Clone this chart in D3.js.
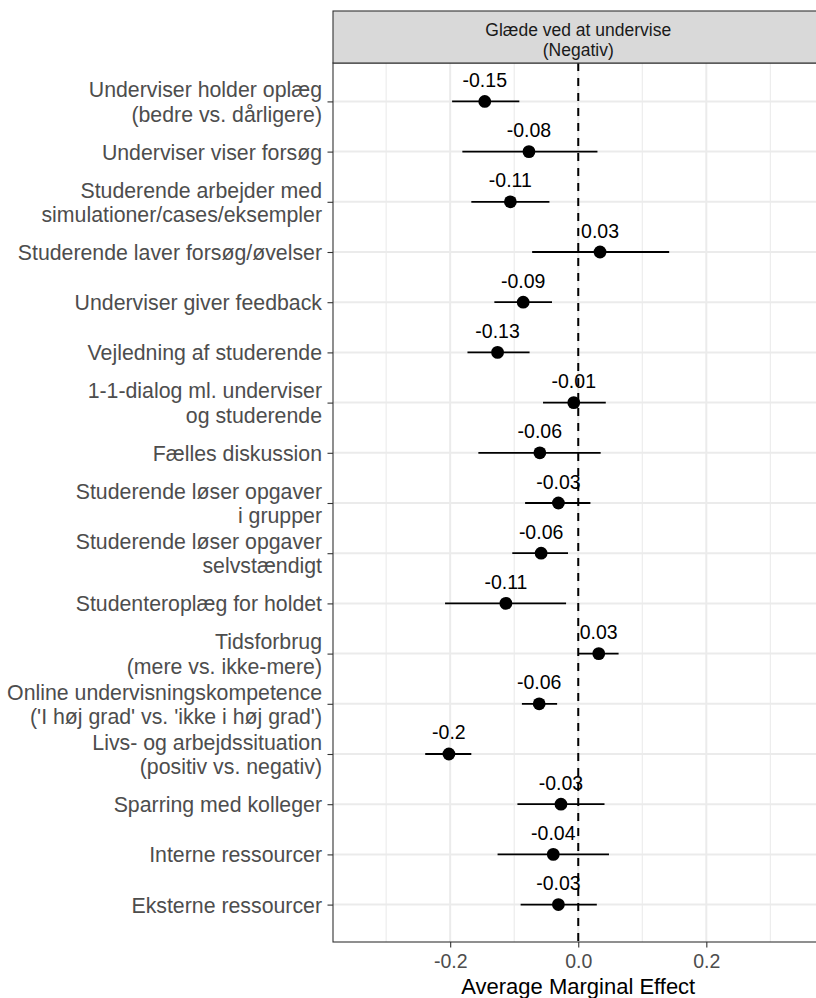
<!DOCTYPE html>
<html>
<head>
<meta charset="utf-8">
<script src="https://cdn.jsdelivr.net/npm/d3@7/dist/d3.min.js"></script>
<style>
  html, body { margin: 0; padding: 0; background: #fff; }
  svg { display: block; font-family: "Liberation Sans", Arial, sans-serif; }
</style>
</head>
<body>
<svg id="chart" width="816" height="998"></svg>
<script>
// ---- data ----
const categories = [
  "Underviser holder oplæg\n(bedre vs. dårligere)",
  "Underviser viser forsøg",
  "Studerende arbejder med\nsimulationer/cases/eksempler",
  "Studerende laver forsøg/øvelser",
  "Underviser giver feedback",
  "Vejledning af studerende",
  "1-1-dialog ml. underviser\nog studerende",
  "Fælles diskussion",
  "Studerende løser opgaver\ni grupper",
  "Studerende løser opgaver\nselvstændigt",
  "Studenteroplæg for holdet",
  "Tidsforbrug\n(mere vs. ikke-mere)",
  "Online undervisningskompetence\n('I høj grad' vs. 'ikke i høj grad')",
  "Livs- og arbejdssituation\n(positiv vs. negativ)",
  "Sparring med kolleger",
  "Interne ressourcer",
  "Eksterne ressourcer"
];
const estimates = [-0.146, -0.077, -0.106, 0.034, -0.086, -0.126, -0.007, -0.060, -0.031, -0.058, -0.113, 0.032, -0.061, -0.202, -0.027, -0.039, -0.031];
const ciLower   = [-0.197, -0.181, -0.167, -0.072, -0.131, -0.173, -0.055, -0.156, -0.083, -0.103, -0.208, 0.000, -0.088, -0.239, -0.095, -0.126, -0.090];
const ciUpper   = [-0.092, 0.030, -0.045, 0.142, -0.041, -0.076, 0.043, 0.035, 0.019, -0.016, -0.019, 0.063, -0.033, -0.167, 0.041, 0.048, 0.029];
const majorTicks = [-0.2, 0.0, 0.2];
const minorTicks = [-0.3, -0.1, 0.1, 0.3];
const stripTitle = ["Glæde ved at undervise", "(Negativ)"];
const xTitle = "Average Marginal Effect";

const data = categories.map((c, i) => ({ cat: c, est: estimates[i], lo: ciLower[i], hi: ciUpper[i] }));

// ---- layout ----
const svg = d3.select("#chart");
const panel = { left: 333, right: 823.5, top: 63, bottom: 942 };
const strip = { top: 11, bottom: 63 };

const x = d3.scaleLinear().domain([-0.383, 0.383]).range([panel.left, panel.right]);
const y = d3.scalePoint().domain(categories).range([panel.top + 0.5, panel.bottom + 0.5]).padding(0.755);

// panel background
svg.append("rect").attr("x", panel.left).attr("y", panel.top)
  .attr("width", panel.right - panel.left).attr("height", panel.bottom - panel.top)
  .attr("fill", "#fff");

// grid
const grid = svg.append("g");
grid.selectAll(".minor").data(minorTicks).join("line")
  .attr("x1", d => x(d)).attr("x2", d => x(d))
  .attr("y1", panel.top).attr("y2", panel.bottom)
  .attr("stroke", "#ebebeb").attr("stroke-width", 1.1);
grid.selectAll(".majx").data(majorTicks).join("line")
  .attr("x1", d => x(d)).attr("x2", d => x(d))
  .attr("y1", panel.top).attr("y2", panel.bottom)
  .attr("stroke", "#ebebeb").attr("stroke-width", 2);
grid.selectAll(".majy").data(categories).join("line")
  .attr("x1", panel.left).attr("x2", panel.right)
  .attr("y1", d => y(d)).attr("y2", d => y(d))
  .attr("stroke", "#ebebeb").attr("stroke-width", 2);

// zero line
svg.append("line")
  .attr("x1", x(0)).attr("x2", x(0))
  .attr("y1", panel.top).attr("y2", panel.bottom)
  .attr("stroke", "#000").attr("stroke-width", 2)
  .attr("stroke-dasharray", "8,7");

// error bars
svg.append("g").selectAll("line").data(data).join("line")
  .attr("x1", d => x(d.lo)).attr("x2", d => x(d.hi))
  .attr("y1", d => y(d.cat)).attr("y2", d => y(d.cat))
  .attr("stroke", "#000").attr("stroke-width", 1.8);

// points
svg.append("g").selectAll("circle").data(data).join("circle")
  .attr("cx", d => x(d.est)).attr("cy", d => y(d.cat))
  .attr("r", 6.4).attr("fill", "#000");

// value labels
svg.append("g").selectAll("text").data(data).join("text")
  .attr("x", d => x(d.est)).attr("y", d => y(d.cat) - 14.5)
  .attr("text-anchor", "middle")
  .attr("font-size", 19.5).attr("fill", "#000")
  .text(d => String(Math.round(d.est * 100) / 100));

// panel border
svg.append("rect").attr("x", panel.left).attr("y", panel.top)
  .attr("width", panel.right - panel.left).attr("height", panel.bottom - panel.top)
  .attr("fill", "none").attr("stroke", "#333").attr("stroke-width", 1.1);

// strip
svg.append("rect").attr("x", panel.left).attr("y", strip.top)
  .attr("width", panel.right - panel.left).attr("height", strip.bottom - strip.top)
  .attr("fill", "#d9d9d9").attr("stroke", "#333").attr("stroke-width", 1.1);
const stripText = svg.append("text")
  .attr("x", x(0)).attr("text-anchor", "middle")
  .attr("font-size", 17.5).attr("fill", "#1a1a1a");
stripText.selectAll("tspan").data(stripTitle).join("tspan")
  .attr("x", x(0)).attr("y", (d, i) => 36 + i * 19.5).text(d => d);

// x axis
const xAxis = d3.axisBottom(x).tickValues(majorTicks).tickSize(5.5).tickPadding(5)
  .tickFormat(d => d.toFixed(1));
const gx = svg.append("g").attr("transform", `translate(0,${panel.bottom})`).call(xAxis);
gx.select(".domain").remove();
gx.selectAll(".tick line").attr("stroke", "#333").attr("stroke-width", 1.1);
gx.selectAll(".tick text").attr("font-size", 19.5).attr("fill", "#4d4d4d")
  .attr("font-family", "Liberation Sans, Arial, sans-serif")
  .attr("dy", null).attr("y", 25.7);

// y axis
const yAxis = d3.axisLeft(y).tickSize(5.5).tickFormat("");
const gy = svg.append("g").attr("transform", `translate(${panel.left},0)`).call(yAxis);
gy.select(".domain").remove();
gy.selectAll(".tick line").attr("stroke", "#333").attr("stroke-width", 1.1);
gy.selectAll(".tick").each(function(d) {
  const lines = d.split("\n");
  const t = d3.select(this).append("text")
    .attr("text-anchor", "end")
    .attr("font-size", 21.3).attr("fill", "#4d4d4d")
    .attr("font-family", "Liberation Sans, Arial, sans-serif");
  const lh = 24.5;
  lines.forEach((ln, i) => {
    const off = (i - (lines.length - 1) / 2) * lh + 7.5;
    t.append("tspan").attr("x", -11).attr("y", off).text(ln);
  });
});

// x title
svg.append("text").attr("x", x(0)).attr("y", 994)
  .attr("text-anchor", "middle").attr("font-size", 22).attr("fill", "#000")
  .text(xTitle);
</script>
</body>
</html>
